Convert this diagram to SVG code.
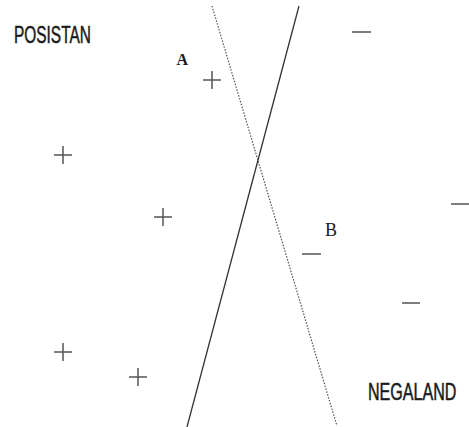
<svg xmlns="http://www.w3.org/2000/svg" width="469" height="427" viewBox="0 0 469 427">
<style>
.lbl{font-family:"Liberation Sans",Arial,sans-serif;font-size:23px;fill:#1a1a1a;stroke:#1a1a1a;stroke-width:0.5}
.pt{font-family:"Liberation Serif",serif;fill:#1a1a1a}
.mk{stroke:#555;stroke-width:1.5;fill:none}
</style>
<rect width="469" height="427" fill="#fff"/>
<g id="connectors">
<line x1="299" y1="6" x2="187" y2="427" stroke="#333" stroke-width="1.3"/>
<line x1="212" y1="6" x2="337" y2="426" stroke="#555" stroke-width="1.2" stroke-dasharray="1.5,1.5"/>
</g>
<g id="posistan"><text class="lbl" transform="translate(14,43) scale(0.68,1)" textLength="113" lengthAdjust="spacingAndGlyphs">POSISTAN</text></g>
<g id="negaland"><text class="lbl" transform="translate(368,400) scale(0.68,1)" textLength="130" lengthAdjust="spacingAndGlyphs">NEGALAND</text></g>
<g id="labelA"><text class="pt" x="176.5" y="65" font-size="16" font-weight="bold">A</text></g>
<g id="labelB"><text class="pt" x="325" y="236" font-size="18">B</text></g>
<g id="plus1"><path class="mk" d="M203 80H221M212 71V89"/></g>
<g id="plus2"><path class="mk" d="M54 155H72M63 146V164"/></g>
<g id="plus3"><path class="mk" d="M154 217H172M163 208V226"/></g>
<g id="plus4"><path class="mk" d="M54 352H72M63 343V361"/></g>
<g id="plus5"><path class="mk" d="M129 377H147M138 368V386" stroke="#888"/></g>
<g id="minus1"><path class="mk" d="M352 32H371"/></g>
<g id="minus2"><path class="mk" d="M451 204H469"/></g>
<g id="minus3"><path class="mk" d="M302 254H321"/></g>
<g id="minus4"><path class="mk" d="M402 303H420"/></g>
</svg>
